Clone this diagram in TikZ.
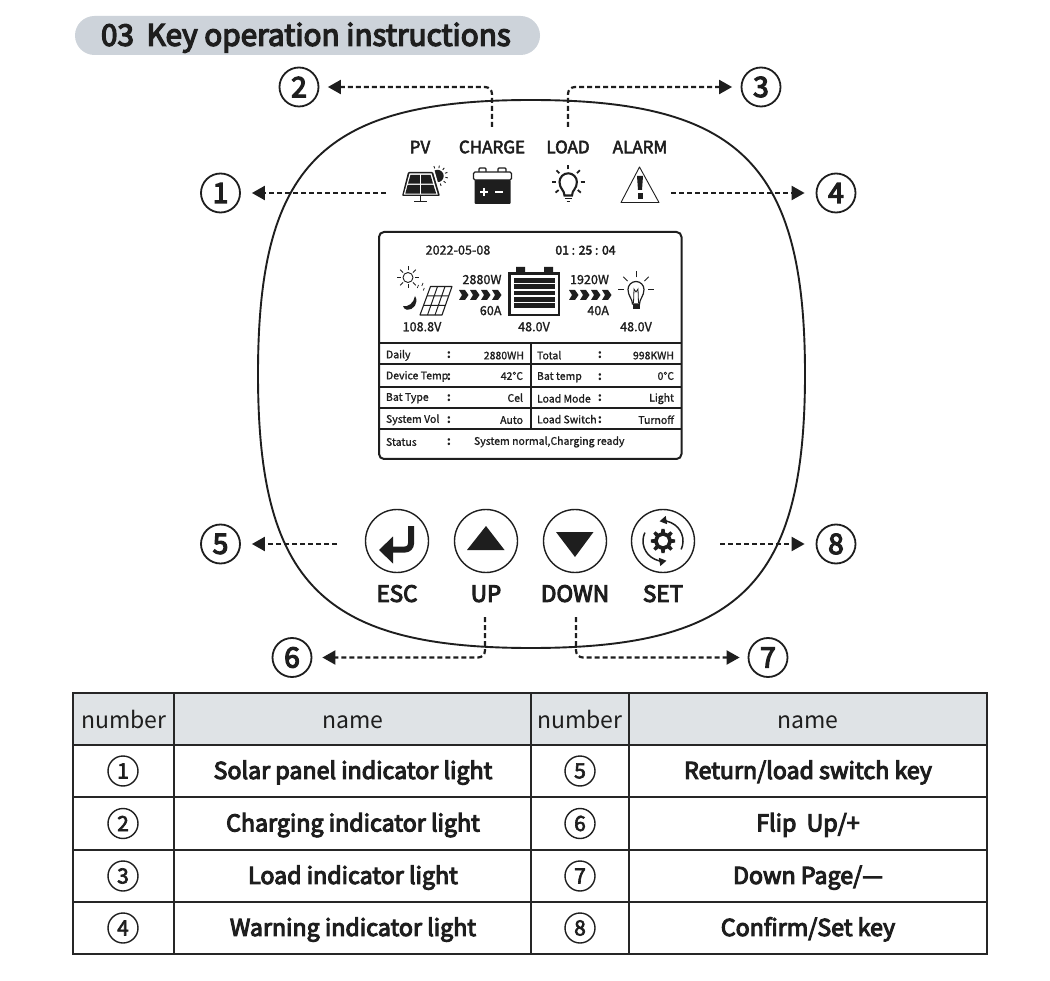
\documentclass[tikz,border=0pt]{standalone}
\usepackage{fontspec}
\setmainfont{Noto Sans CJK SC}
\newfontfamily\medf[FakeBold=4.5]{Noto Sans CJK SC}
\newfontfamily\lightmed[FakeBold=3]{Noto Sans CJK SC}
\newfontfamily\smallmed[FakeBold=1.2]{Noto Sans CJK SC}
\usetikzlibrary{arrows.meta,calc}
\definecolor{ink}{HTML}{1E1E1E}
\definecolor{pill}{HTML}{CDD3DA}
\definecolor{headfill}{HTML}{DFE3E6}
\tikzset{
  x=1pt,y=-1pt,
  txt/.style={inner sep=0pt,outer sep=0pt,text=ink},
  lab/.style={txt,font=\lightmed\fontsize{17}{17}\selectfont,text height=14.5pt,text depth=2pt},
  btn/.style={txt,font=\medf\fontsize{22.5}{23}\selectfont,text height=19pt,text depth=2.7pt},
  scr/.style={txt,font=\smallmed\fontsize{12.6}{13}\selectfont,text height=10.7pt,text depth=1.5pt},
  cell/.style={txt,font=\smallmed\fontsize{10.5}{11}\selectfont,text height=9pt,text depth=1.3pt},
  coln/.style={txt,font=\bfseries\fontsize{12}{12}\selectfont,text height=9pt,text depth=1.3pt},
  call/.style={circle,draw=ink,line width=1.8pt,minimum size=39pt,inner sep=0pt,text=ink,font=\medf\fontsize{28}{28}\selectfont},
  tnum/.style={circle,draw=ink,line width=1.4pt,minimum size=30pt,inner sep=0pt,text=ink,font=\lightmed\fontsize{21}{21}\selectfont},
  dasharrow/.style={draw=ink,line width=2.2pt,dash pattern=on 5pt off 3pt,-{Triangle[length=13pt,width=14pt]},shorten >=11pt,rounded corners=7pt},
  keycirc/.style={circle,draw=ink,line width=1.4pt,minimum size=63pt,inner sep=0pt},
  thead/.style={txt,font=\fontsize{23}{23}\selectfont,text height=19.5pt,text depth=2.8pt},
  tname/.style={txt,font=\medf\fontsize{23.2}{23}\selectfont,text height=19.7pt,text depth=2.8pt},
}
\begin{document}
\begin{tikzpicture}
\useasboundingbox[fill=white] (0,0) rectangle (1050,981);
% title
\fill[pill,rounded corners=19.5pt] (75,16) rectangle (540,55);
\node[txt,anchor=west,font=\medf\fontsize{29.7}{30}\selectfont,text height=25pt,text depth=3.5pt] (title) at (101,35) {03\hspace{6pt} Key operation instructions};
% outline
\draw[ink,line width=1.9pt] (258,374) .. controls (258,165) and (322,100) .. (531,100)
  .. controls (740,100) and (805,165) .. (805,374)
  .. controls (805,583) and (740,648) .. (531,648)
  .. controls (322,648) and (258,583) .. (258,374) -- cycle;
% indicator labels
\node[lab] (lpv) at (420,147) {PV};
\node[lab] (lch) at (492,147) {CHARGE};
\node[lab] (llo) at (568,147) {LOAD};
\node[lab] (lal) at (640,147) {ALARM};
% solar panel icon
\fill[ink] (437.5,176) circle[radius=6.2];
\foreach \a in {-110,-80,-50,-20,10,40,70} \draw[ink,line width=.9pt] ($(437.5,176)+(\a:8)$) -- ($(437.5,176)+(\a:10.5)$);
\fill[white] (406.5,170.5) -- (434.5,170.5) -- (442,197) -- (401,197) -- cycle;
\fill[ink,rounded corners=1pt] (408,172) -- (433,172) -- (440,196) -- (402,196) -- cycle;
\fill[white] (409.5,173.5) -- (431.5,173.5) -- (437.8,194.6) -- (403.8,194.6) -- cycle;
\fill[ink] (410.5,174.8) -- (419.9,174.8) -- (419.9,183.7) -- (408,183.7) -- cycle;
\fill[ink] (421.1,174.8) -- (430.5,174.8) -- (433,183.7) -- (421.1,183.7) -- cycle;
\fill[ink] (407.6,184.9) -- (419.9,184.9) -- (419.9,193.6) -- (405.3,193.6) -- cycle;
\fill[ink] (421.1,184.9) -- (433.4,184.9) -- (436.2,193.6) -- (421.1,193.6) -- cycle;
\draw[ink,line width=1.5pt] (420.5,196) -- (420.5,201.5) (414,201.5) -- (427,201.5);
% battery icon
\draw[ink,line width=1.4pt,rounded corners=1pt] (479,172) -- (479,168) -- (486,168) -- (486,172) (498,172) -- (498,168) -- (506,168) -- (506,172);
\draw[ink,line width=1.4pt,fill=white,rounded corners=1.5pt] (473.5,172) rectangle (511.5,180);
\fill[ink,rounded corners=1pt] (474.5,180) rectangle (510.5,204);
\draw[white,line width=1.6pt] (480,192) -- (488,192) (484,188) -- (484,196) (495,192) -- (503,192);
% bulb icon
\draw[ink,line width=2.1pt] (564.5,195.5) .. controls (564.5,190) and (559.5,189) .. (559.5,182) arc[start angle=180,end angle=360,radius=8.7] .. controls (576.9,189) and (572,190) .. (572,195.5) -- cycle;
\draw[ink,line width=1.7pt] (565,198.5) -- (571.5,198.5) (566.5,201.5) -- (570,201.5);
\foreach \a in {-180,-135,-90,-45,0,40,140} \draw[ink,line width=1.8pt] ($(568.2,182)+(\a:12.5)$) -- ($(568.2,182)+(\a:16.5)$);
% alarm icon
\draw[ink,line width=.9pt,line join=round] (639.5,167) -- (621,202.5) -- (659,202.5) -- cycle;
\fill[ink] (637,176) -- (643,176) -- (642,190) -- (638,190) -- cycle;
\fill[ink] (637.5,193.5) rectangle (642.5,199);
% screen
\draw[ink,line width=2pt,rounded corners=5pt] (379,232) rectangle (681.5,459);
\draw[ink,line width=2pt] (379,343) -- (681.5,343) (379,364.5) -- (681.5,364.5) (379,387) -- (681.5,387) (379,408.5) -- (681.5,408.5) (379,429.5) -- (681.5,429.5) (530.5,343) -- (530.5,429.5);
\node[scr] (date) at (458,250) {2022-05-08};
\node[scr,font=\lightmed\fontsize{12.2}{13}\selectfont] (time) at (585.5,250) {01 : 25 : 04};
\node[scr,anchor=east] (pw) at (501.5,279.5) {2880W};
\node[scr,anchor=east] (pa) at (501.5,310.5) {60A};
\node[scr,anchor=east] (lw) at (609,279.5) {1920W};
\node[scr,anchor=east] (la) at (609,310.5) {40A};
\node[scr] (pv) at (422,326.7) {108.8V};
\node[scr] (bv) at (534,326.7) {48.0V};
\node[scr] (lv) at (636,326.7) {48.0V};
% screen sun, moon, panel
\draw[ink,line width=.9pt] (408,277.5) circle[radius=5];
\foreach \a in {0,45,...,315} \draw[ink,line width=.9pt] ($(408,277.5)+(\a:7)$) -- ($(408,277.5)+(\a:11)$);
\fill[ink] (415,296) .. controls (419.5,303) and (413,310.5) .. (407,309.8) .. controls (405,309.5) and (403.5,308) .. (403,306) .. controls (408,307.5) and (414,303) .. (415,296) -- cycle;
\draw[ink,line width=1.1pt,line join=round] (430.5,286.5) -- (452,286.5) -- (442,315) -- (420,315) -- cycle;
\draw[ink,line width=1pt] (437.5,286.5) -- (427.5,315) (445,286.5) -- (435,315) (427,296) -- (448.6,296) (423.6,305.5) -- (445.3,305.5);
\draw[ink,line width=.7pt] (423,283) -- (421.8,286) (418.5,285) -- (417.3,288) (424.3,288) -- (423.3,290.5);
% chevrons
\foreach \x in {459,470,481,492,569,580,591,602}
  \fill[ink] (\x,290) -- (\x+6,290) -- (\x+9.5,295) -- (\x+6,300) -- (\x,300) -- (\x+3,295) -- cycle;
% screen battery
\fill[ink] (516,267) rectangle (525,273) (544,267) rectangle (553,273);
\draw[ink,line width=2.2pt] (509.5,273.5) rectangle (559,315);
\foreach \y in {278,284.5,290.8,297,303.5} \fill[ink] (514,\y) rectangle (555,\y+4.6);
% screen bulb
\draw[ink,line width=1.2pt] (632.5,304) .. controls (632.5,299) and (628,296) .. (628,289.5) arc[start angle=180,end angle=360,radius=8] .. controls (644,296) and (639.5,299) .. (639.5,304) -- cycle;
\fill[ink] (632.5,304) rectangle (639.5,309);
\draw[ink,line width=.8pt] (633.5,303) -- (634,289) -- (636,292) -- (638,289) -- (638.5,303);
\foreach \a in {-180,-135,-90,-45,0} \draw[ink,line width=1pt] ($(636,289.5)+(\a:12)$) -- ($(636,289.5)+(\a:18)$);
% screen rows
\node[cell,anchor=west] (c11) at (386,354.5) {Daily};
\node[coln] (k11) at (449,355) {:};
\node[cell,anchor=east] (v11) at (524,355.5) {2880WH};
\node[cell,anchor=west] (c12) at (537,355.5) {Total};
\node[coln] (k12) at (600,355) {:};
\node[cell,anchor=east] (v12) at (674,355.5) {998KWH};
\node[cell,anchor=west] (c21) at (386,375.5) {Device Temp};
\node[coln] (k21) at (449,376.5) {:};
\node[cell,anchor=east] (v21) at (523,376) {42°C};
\node[cell,anchor=west] (c22) at (537,376) {Bat temp};
\node[coln] (k22) at (600,376.5) {:};
\node[cell,anchor=east] (v22) at (674,376) {0°C};
\node[cell,anchor=west] (c31) at (386,397) {Bat Type};
\node[coln] (k31) at (449,398) {:};
\node[cell,anchor=east] (v31) at (523,398) {Cel};
\node[cell,anchor=west] (c32) at (537,398.7) {Load Mode};
\node[coln] (k32) at (600,398) {:};
\node[cell,anchor=east] (v32) at (674,397.7) {Light};
\node[cell,anchor=west] (c41) at (386,419) {System Vol};
\node[coln] (k41) at (449,420) {:};
\node[cell,anchor=east] (v41) at (523,420) {Auto};
\node[cell,anchor=west] (c42) at (537,419.5) {Load Switch};
\node[coln] (k42) at (600,420) {:};
\node[cell,anchor=east] (v42) at (674,420) {Turnoff};
\node[cell,anchor=west] (c51) at (386,442) {Status};
\node[coln] (k51) at (449,442) {:};
\node[cell,anchor=west] (v51) at (474,441) {System normal,Charging ready};
% key circles
\node[keycirc] (kesc) at (397,541) {};
\node[keycirc] (kup) at (486,541) {};
\node[keycirc] (kdn) at (575,541) {};
\node[keycirc] (kset) at (663,541) {};
\node[btn] (lesc) at (397,593.7) {ESC};
\node[btn] (lup) at (486,593.7) {UP};
\node[btn] (ldn) at (575,593.7) {DOWN};
\node[btn] (lset) at (663,593.7) {SET};
\draw[ink,line width=6pt,rounded corners=6pt] (411,526) -- (411,549.5) -- (391,549.5);
\fill[ink] (379,550) -- (393,536.5) -- (393,563.5) -- cycle;
\fill[ink] (467,550) -- (504.5,550) -- (486,526) -- cycle;
\fill[ink] (556,532) -- (593.5,532) -- (575,557) -- cycle;
% gear
\fill[ink,even odd rule] (663,541) circle[radius=5.3]
  ($(663,541)+(-12:8.8)$)
  \foreach \a in {0,45,...,315}{ -- ($(663,541)+(\a-12:8.8)$) -- ($(663,541)+(\a-8:12.2)$) -- ($(663,541)+(\a+8:12.2)$) -- ($(663,541)+(\a+12:8.8)$) } -- cycle;
\draw[ink,line width=1.5pt,-{Triangle[length=7pt,width=8pt]}] ($(663,541)+(25:20)$) arc[start angle=25,end angle=-100,radius=20];
\draw[ink,line width=1.5pt,-{Triangle[length=7pt,width=8pt]}] ($(663,541)+(205:20)$) arc[start angle=205,end angle=80,radius=20];
% callouts
\node[call] (n1) at (220.5,193) {1};
\node[call] (n2) at (299,87) {2};
\node[call] (n3) at (761,87) {3};
\node[call] (n4) at (836,193) {4};
\node[call] (n5) at (220.5,544) {5};
\node[call] (n6) at (292,657.5) {6};
\node[call] (n7) at (768,657.5) {7};
\node[call] (n8) at (836,544) {8};
\coordinate (s1) at (386,193);
\coordinate (s2) at (492,127);
\coordinate (s3) at (568,127);
\coordinate (s4) at (671,193);
\coordinate (s5) at (337,544);
\coordinate (s6) at (485,617);
\coordinate (s7) at (576,617);
\coordinate (s8) at (720,544);
\draw[dasharrow] (s1) -- (n1);
\draw[dasharrow,shorten >=8.5pt] (s2) |- (n2);
\draw[dasharrow,shorten >=8.5pt] (s3) |- (n3);
\draw[dasharrow] (s4) -- (n4);
\draw[dasharrow] (s5) -- (n5);
\draw[dasharrow,shorten >=10pt] (s6) |- (n6);
\draw[dasharrow,shorten >=8pt] (s7) |- (n7);
\draw[dasharrow] (s8) -- (n8);
% table
\fill[headfill] (73,693) rectangle (987,745);
\draw[black!85,line width=1.5pt] (73,693) rectangle (987,954)
  (73,745) -- (987,745) (73,797) -- (987,797) (73,850) -- (987,850) (73,902) -- (987,902)
  (174,693) -- (174,954) (531,693) -- (531,954) (629,693) -- (629,954);
\node[thead] (h1) at (124,720) {number};
\node[thead] (h2) at (353,720) {name};
\node[thead] (h3) at (580,720) {number};
\node[thead] (h4) at (808,720) {name};
\node[tnum] (r1) at (123,771) {1};
\node[tnum] (r2) at (123,823.5) {2};
\node[tnum] (r3) at (123,876) {3};
\node[tnum] (r4) at (123,928) {4};
\node[tnum] (r5) at (580,771) {5};
\node[tnum] (r6) at (580,823.5) {6};
\node[tnum] (r7) at (580,876) {7};
\node[tnum] (r8) at (580,928) {8};
\node[tname] (m1) at (353,770.5) {Solar panel indicator light};
\node[tname] (m2) at (353,823) {Charging indicator light};
\node[tname] (m3) at (353,875.5) {Load indicator light};
\node[tname] (m4) at (353,927.5) {Warning indicator light};
\node[tname] (m5) at (808,770.5) {Return/load switch key};
\node[tname] (m6) at (808,823) {Flip\hspace{5pt} Up/+};
\node[tname] (m7) at (808,875.5) {Down Page/—};
\node[tname] (m8) at (808,927.5) {Confirm/Set key};
\end{tikzpicture}
\end{document}
